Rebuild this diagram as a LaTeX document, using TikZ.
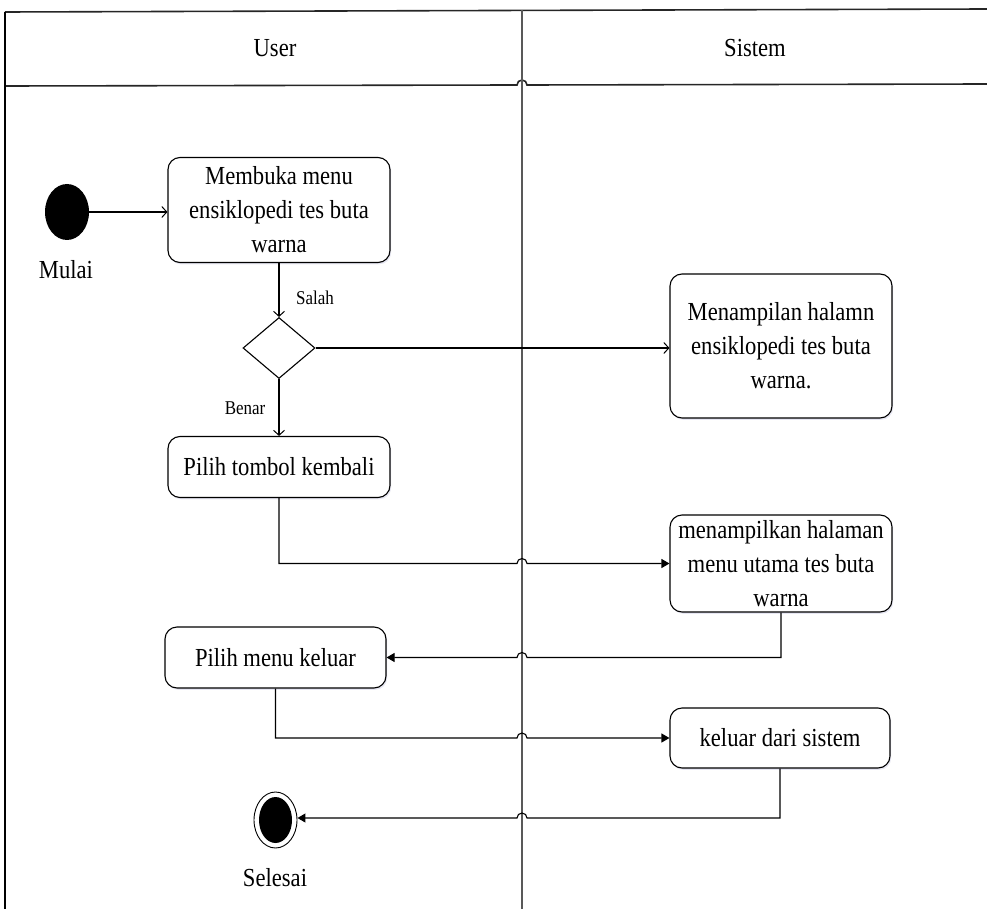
\documentclass[tikz,border=0pt]{standalone}
\usepackage{fontspec}
\setmainfont{Liberation Serif}[FakeStretch=0.87]
\usetikzlibrary{shapes.geometric,arrows.meta,shadows}

\begin{document}
\begin{tikzpicture}[x=1pt,y=-1pt,
  every node/.style={font=\fontsize{26}{34}\selectfont},
  action/.style={draw,fill=white,line width=1.1pt,rounded corners=12pt,align=center,
    inner sep=0pt,
    drop shadow={opacity=0.15,fill=blue!30!gray,shadow xshift=1.2pt,shadow yshift=-1.8pt}},
  conn/.style={line width=1.1pt},
  openhead/.style={conn,-{Straight Barb[length=5pt,width=11pt,line width=1pt]}},
  fullhead/.style={conn,-{Triangle[length=8pt,width=9pt]}},
  small/.style={font=\fontsize{19.5}{24}\selectfont},
  lanehead/.style={line width=1.6pt,draw=black!85},
]
\useasboundingbox (0,0) rectangle (987,909);

% swimlane frame
\coordinate (lane) at (522,400);
\draw[lanehead] (5,12) -- (987,9);
\draw[lanehead] (5,86) -- ([xshift=-5pt]lane |- 0,85)
  arc[start angle=180,end angle=0,radius=5pt] -- (987,84);
\draw[line width=1.2pt] (5,12) -- (5,909);
\draw[line width=1.3pt,draw=black!65] (522,10) -- (522,909);
\node (hUser) at (275,48) {User};
\node (hSistem) at (755,48) {Sistem};

% start
\node[ellipse,fill=black,minimum width=44pt,minimum height=56pt,inner sep=0pt] (start) at (67,212) {};
\node (lMulai) at (66,270) {Mulai};

% user actions
\node[action,minimum width=222pt,minimum height=105pt] (b1) at (279,210)
  {Membuka menu\\ensiklopedi tes buta\\warna};
\node[diamond,draw,line width=1.1pt,minimum width=72pt,minimum height=61pt,inner sep=0pt] (dec) at (279,348) {};
\node[action,minimum width=222pt,minimum height=61pt] (b3) at (279,467)
  {Pilih tombol kembali};
\node[action,minimum width=221pt,minimum height=61pt] (b5) at (275.5,657.5)
  {Pilih menu keluar};

% system actions
\node[action,minimum width=222pt,minimum height=144pt] (b2) at (781,346)
  {Menampilan halamn\\ensiklopedi tes buta\\warna.};
\node[action,minimum width=222pt,minimum height=97pt] (b4) at (781,563.5)
  {menampilkan halaman\\menu utama tes buta\\warna};
\node[action,minimum width=220pt,minimum height=60pt] (b6) at (780,738)
  {keluar dari sistem};

% end
\node[ellipse,draw,line width=0.9pt,minimum width=43pt,minimum height=56pt,inner sep=0pt] (finish) at (275.5,820) {};
\fill (finish.center) ellipse[x radius=16.5pt,y radius=23pt];
\node (lSelesai) at (275,878) {Selesai};

% flow
\draw[openhead] (start.east) -- (start.east -| b1.west);
\draw[openhead] (b1.south) -- (dec.north);
\node[small] (lSalah) at (315,298) {Salah};
\draw[openhead] (dec.east) -- (dec.east -| b2.west);
\draw[openhead] (dec.south) -- (b3.north);
\node[small] (lBenar) at (245,408) {Benar};

\draw[fullhead] (b3.south) |- ([xshift=-5pt]lane |- b4.west)
  arc[start angle=180,end angle=0,radius=5pt] -- (b4.west);
\draw[fullhead] (b4.south) |- ([xshift=5pt]lane |- b5.east)
  arc[start angle=0,end angle=180,radius=5pt] -- (b5.east);
\draw[fullhead] (b5.south) |- ([xshift=-5pt]lane |- b6.west)
  arc[start angle=180,end angle=0,radius=5pt] -- (b6.west);
\draw[fullhead] (b6.south) |- ([xshift=5pt]lane |- 0,818)
  arc[start angle=0,end angle=180,radius=5pt] -- (finish.east |- 0,818);
\end{tikzpicture}
\end{document}
